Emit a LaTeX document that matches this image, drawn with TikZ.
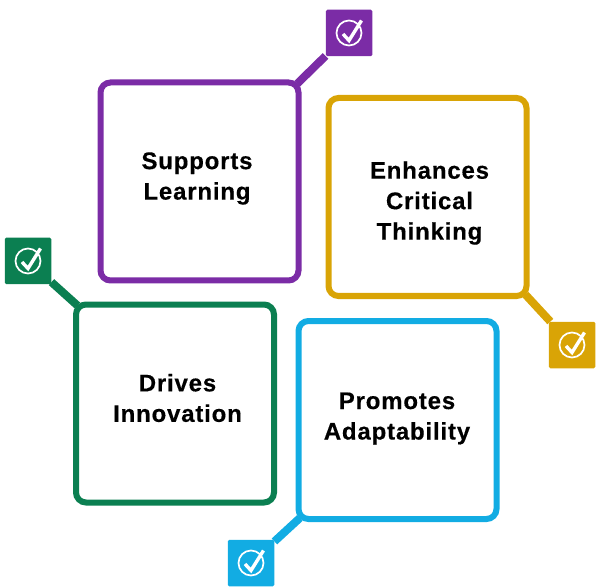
\documentclass[tikz,border=0pt]{standalone}
\usepackage{fontspec}
\setmainfont[LetterSpace=3.4, BoldFeatures={FakeBold=0.35}]{Liberation Sans}
\usepackage{xcolor}
\definecolor{purpleline}{HTML}{7B2CA6}
\definecolor{goldline}{HTML}{D9A406}
\definecolor{greenline}{HTML}{0B7F51}
\definecolor{blueline}{HTML}{12ACE3}

\begin{document}
\begin{tikzpicture}[
    x=1pt, y=-1pt,
    card/.style={rectangle, rounded corners=10pt, line width=6pt, minimum width=198pt, minimum height=198pt},
    cardtext/.style={align=center, inner sep=0pt, font=\fontsize{24}{30.5}\selectfont\bfseries},
    badge/.style={rectangle, rounded corners=1.5pt, minimum width=46.5pt, minimum height=46.5pt, inner sep=0pt},
    link/.style={line width=8pt, shorten <=-6pt},
    tick/.pic={
        \draw[white, line width=1.7pt] (0,0) circle[radius=12.5pt];
        \draw[white, line width=3.4pt] (-6pt,-1pt) -- (0pt,-7.5pt) -- (12.5pt,12.5pt);
    }
]
\useasboundingbox (0,0) rectangle (600,588);

% Cards
\node[card, draw=purpleline] (supports) at (199.5,181.5) {};
\node[card, draw=goldline] (enhances) at (427.5,197) {};
\node[card, draw=greenline] (drives) at (175,403.5) {};
\node[card, draw=blueline] (promotes) at (397.5,420) {};

% Card texts
\node[cardtext] (supportstext) at (197,178.5) {Supports\\Learning};
\node[cardtext] (enhancestext) at (429.5,203) {Enhances\\Critical\\Thinking};
\node[cardtext] (drivestext) at (177.5,398) {Drives\\Innovation};
\node[cardtext] (promotestext) at (397,418.5) {Promotes\\Adaptability};

% Badges
\node[badge, fill=purpleline] (supportsbadge) at (349,33) {};
\node[badge, fill=goldline] (enhancesbadge) at (572,345) {};
\node[badge, fill=greenline] (drivesbadge) at (28,261) {};
\node[badge, fill=blueline] (promotesbadge) at (251,563) {};

% Links
\draw[link, purpleline] (supports.north east) -- (supportsbadge);
\draw[link, goldline] (enhances.south east) -- (enhancesbadge);
\draw[link, greenline] (drives.north west) -- (drivesbadge);
\draw[link, blueline] (promotes.south west) -- (promotesbadge);

% Ticks
\pic at (supportsbadge) {tick};
\pic at (enhancesbadge) {tick};
\pic at (drivesbadge) {tick};
\pic at (promotesbadge) {tick};

\end{tikzpicture}
\end{document}
